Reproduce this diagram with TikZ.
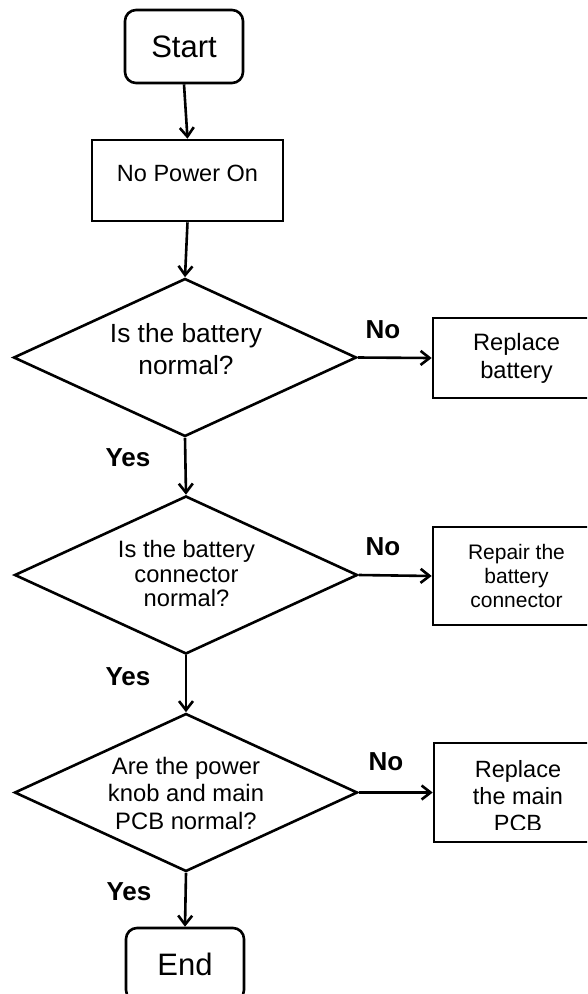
\documentclass[tikz,border=0pt]{standalone}
\usepackage{fontspec}
\setmainfont{Liberation Sans}
\usetikzlibrary{shapes.geometric,arrows.meta}
\begin{document}
\begin{tikzpicture}[x=1pt,y=-1pt,
  lw/.style={line width=2.6pt},
  term/.style={draw, lw, rounded corners=11pt, inner sep=0pt, minimum width=118pt, minimum height=73pt, font=\fontsize{31}{36}\selectfont},
  box/.style={draw, lw, inner sep=0pt, align=center},
  dia/.style={draw, lw, diamond, inner sep=0pt, minimum width=343pt, minimum height=158pt},
  txt/.style={inner sep=0pt, align=center},
  yn/.style={inner sep=0pt, font=\bfseries\fontsize{26}{30}\selectfont},
  arr/.style={lw, -{Straight Barb[length=9pt,width=14pt]}}]
\path[use as bounding box, clip] (0,0) rectangle (587,994);

% terminals and process boxes
\node[term] (start) at (184,46.5) {Start};
\node[box, minimum width=191pt, minimum height=81pt, text height=17pt, text depth=15pt,
      font=\fontsize{23.5}{28}\selectfont] (npo) at (187.5,180.5) {No Power On};

% decisions
\node[dia] (d1) at (185,357.5) {};
\node[txt, font=\fontsize{26.3}{32}\selectfont] (d1t) at (186,349) {Is the battery\\normal?};
\node[dia] (d2) at (186,575) {};
\node[txt, font=\fontsize{23.7}{24.5}\selectfont] (d2t) at (186.5,574) {Is the battery\\connector\\normal?};
\node[dia] (d3) at (186,792.5) {};
\node[txt, font=\fontsize{23.8}{27.5}\selectfont] (d3t) at (186,793) {Are the power\\knob and main\\PCB normal?};

% action boxes (cut by the right edge)
\node[box, minimum width=167pt, minimum height=80pt, font=\fontsize{23.7}{28}\selectfont] (b1) at (516.5,358) {Replace\\battery};
\node[box, minimum width=167pt, minimum height=98pt, font=\fontsize{21}{24}\selectfont] (b2) at (516.5,576) {Repair the\\battery\\connector};
\node[box, minimum width=166pt, minimum height=99pt] (b3) at (517,792.5) {};
\begin{scope}
  \clip (425,735) rectangle (587,829);
  \node[txt, font=\fontsize{23.5}{27}\selectfont] (b3t) at (518,796.5) {Replace\\the main\\PCB};
\end{scope}

\node[term] (end) at (185,964.5) {End};

% connectors
\draw[arr] (start.south) -- (npo.north);
\draw[arr] (npo.south) -- (d1.north);
\draw[arr] (d1.south) -- (d2.north);
\draw[arr] (d2.south) -- (d3.north);
\draw[arr] (d3.south) -- (end.north);
\draw[arr] (d1.east) -- (b1.west);
\draw[arr] (d2.east) -- (b2.west);
\draw[arr] (d3.east) -- (b3.west);

% branch labels
\node[yn] (no1) at (383,330) {No};
\node[yn] (no2) at (383,547) {No};
\node[yn] (no3) at (386,762) {No};
\node[yn] (yes1) at (128,458) {Yes};
\node[yn] (yes2) at (128,677) {Yes};
\node[yn] (yes3) at (129,892) {Yes};
\end{tikzpicture}
\end{document}
